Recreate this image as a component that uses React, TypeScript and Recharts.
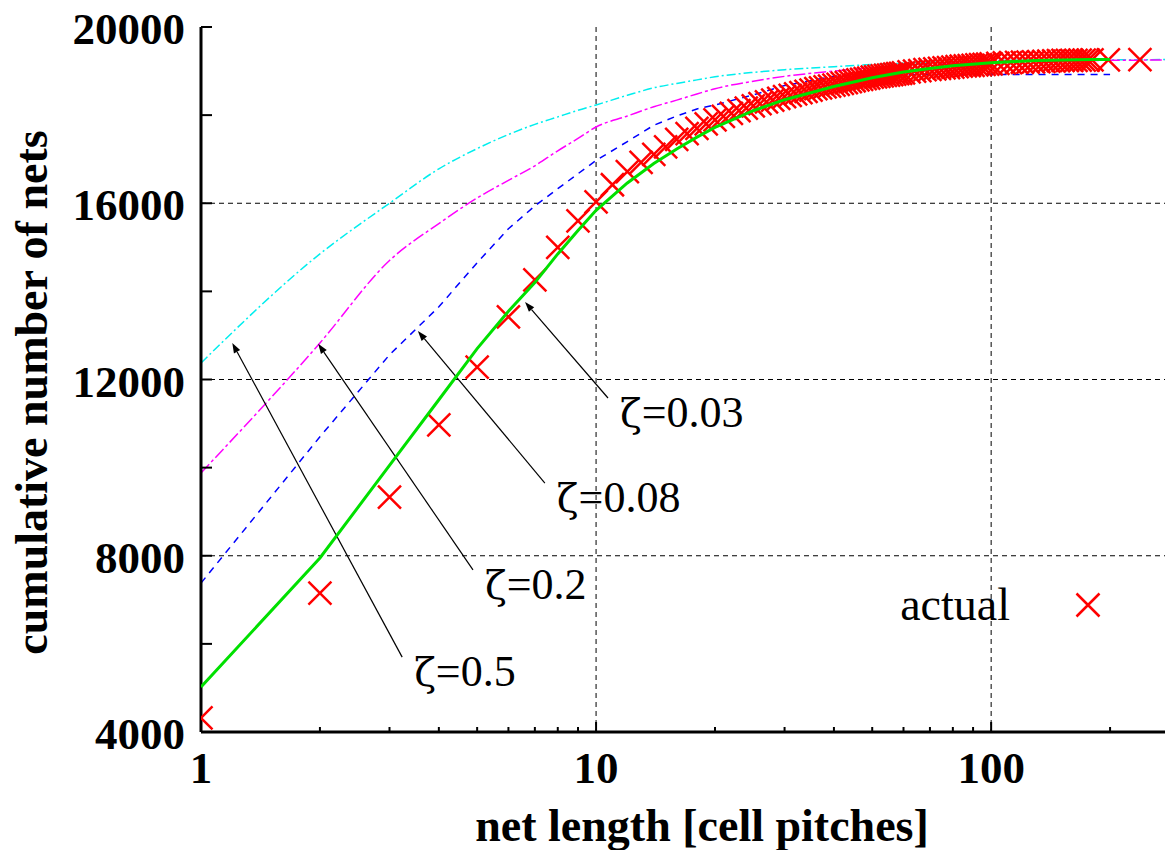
import React from 'react';
import { ComposedChart, Line, Scatter, XAxis, YAxis, CartesianGrid, ReferenceLine } from 'recharts';

const FONT = '"Liberation Serif", "Times New Roman", serif';
const X_MAX = 292;

// model curves, sampled at net lengths
const modelLength = [1, 2, 3, 4, 5, 6, 7, 8, 9, 10, 12, 14, 16, 18, 20, 25, 30, 40, 50, 60, 70, 80, 100, 130, 180, 200, 300];
const zeta05 = [12375, 14850, 16000, 16780, 17240, 17560, 17790, 17960, 18110, 18230, 18450, 18620, 18720, 18800, 18870, 18970, 19030, 19100, 19150, 19180, 19200, 19220, 19240, 19250, 19255, 19258, 19260];
const zeta02 = [9880, 12830, 14700, 15540, 16120, 16520, 16850, 17190, 17470, 17730, 17980, 18190, 18340, 18480, 18600, 18770, 18880, 19000, 19080, 19130, 19160, 19190, 19210, 19230, 19240, 19245, 19250];
const zeta008 = [7380, 10700, 12560, 13650, 14650, 15420, 15940, 16330, 16670, 16970, 17400, 17770, 17980, 18140, 18230, 18460, 18670, 18880, 18910, 18920, 18920, 18920, 18920, 18920, 18920, 18920, null];
const zeta003 = [5020, 7950, 10050, 11540, 12700, 13550, 14200, 14850, 15380, 15840, 16460, 16900, 17230, 17500, 17720, 18100, 18350, 18650, 18850, 18980, 19060, 19120, 19190, 19240, 19260, 19260, null];

// measured cumulative counts
const actualLength = [
  1, 2, 3, 4, 5, 6, 7, 8, 9, 10, 11, 12, 13, 14, 15, 16, 17, 18, 19, 20,
  21, 22, 23, 24, 25, 26, 27, 28, 29, 30, 31, 32, 33, 34, 35, 36, 37, 38, 39, 40,
  41, 42, 43, 44, 45, 46, 47, 48, 49, 50, 51, 52, 53, 54, 55, 56, 57, 58, 59, 60,
  62, 64, 66, 68, 70, 72, 74, 76, 78, 80, 82, 84, 86, 88, 90, 92, 94, 96, 98, 100,
  104, 108, 112, 116, 120, 124, 128, 132, 136, 140, 144, 148, 152, 156, 160, 164, 168, 172, 176, 180,
  198, 238,
];
const actualNets = [
  4320, 7150, 9330, 10970, 12280, 13420, 14260, 15000, 15600, 16030, 16420, 16720, 16930, 17110, 17280, 17450, 17580, 17700, 17800, 17890,
  17970, 18040, 18100, 18160, 18210, 18260, 18300, 18340, 18380, 18420, 18450, 18480, 18510, 18540, 18570, 18600, 18620, 18640, 18660, 18680,
  18700, 18720, 18740, 18760, 18780, 18800, 18810, 18830, 18840, 18860, 18870, 18880, 18890, 18900, 18910, 18920, 18930, 18940, 18950, 18960,
  18980, 19000, 19010, 19030, 19040, 19050, 19060, 19070, 19080, 19090, 19100, 19110, 19120, 19125, 19130, 19140, 19145, 19150, 19160, 19165,
  19175, 19185, 19190, 19195, 19200, 19205, 19210, 19215, 19220, 19225, 19230, 19235, 19240, 19240, 19245, 19245, 19250, 19250, 19250, 19255,
  19255, 19258,
];

const xMajor = [1, 10, 100];
const xMinor = [2, 3, 4, 5, 6, 7, 8, 9, 20, 30, 40, 50, 60, 70, 80, 90, 200];
const yTicks = [4000, 6000, 8000, 10000, 12000, 14000, 16000, 18000, 20000];
const yLabelled = [4000, 8000, 12000, 16000, 20000];

const arrows = [
  { label: '0.5', from: { x: 3.23, y: 5700 }, to: { x: 1.2, y: 12830 } },
  { label: '0.2', from: { x: 4.88, y: 7680 }, to: { x: 1.98, y: 12810 } },
  { label: '0.08', from: { x: 7.42, y: 9650 }, to: { x: 3.54, y: 13100 } },
  { label: '0.03', from: { x: 10.72, y: 11580 }, to: { x: 6.61, y: 13760 } },
];

const modelData = modelLength.map((x, i) => ({ x, z05: zeta05[i], z02: zeta02[i], z008: zeta008[i], z003: zeta003[i] }));
// the ζ=0.03 fit is drawn as a scatter line so that it sits on top of the crosses
const fitData = modelLength.map((x, i) => ({ x, y: zeta003[i] })).filter((d) => d.y != null);
const actualData = actualLength.map((x, i) => ({ x, y: actualNets[i] }));

const CrossMark = (props: any) => {
  const { cx, cy } = props;
  if (cx == null || cy == null) return null;
  const h = 11.5;
  return (
    <path d={`M${cx - h},${cy - h}L${cx + h},${cy + h}M${cx - h},${cy + h}L${cx + h},${cy - h}`} stroke="#ff0000" strokeWidth={2.5} fill="none" />
  );
};

const NoMark = () => <g />;

const BottomTick = (props: any) => {
  const { x, y, payload } = props;
  const major = xMajor.includes(payload.value);
  return (
    <g>
      <line x1={x} y1={y} x2={x} y2={y - (major ? 10 : 5)} stroke="#000" strokeWidth={2} />
      {major && (
        <text x={x} y={y + 51} textAnchor="middle" fontFamily={FONT} fontWeight="bold" fontSize={45} fill="#000">{payload.value}</text>
      )}
    </g>
  );
};

const TopTick = (props: any) => {
  const { x, y, payload } = props;
  const major = xMajor.includes(payload.value);
  return <line x1={x} y1={y} x2={x} y2={y + (major ? 10 : 5)} stroke="#000" strokeWidth={2} />;
};

const LeftTick = (props: any) => {
  const { x, y, payload } = props;
  return (
    <g>
      <line x1={x} y1={y} x2={x + 11} y2={y} stroke="#000" strokeWidth={2} />
      {yLabelled.includes(payload.value) && (
        <text x={x - 16} y={y + 17} textAnchor="end" fontFamily={FONT} fontWeight="bold" fontSize={45} fill="#000">{payload.value}</text>
      )}
    </g>
  );
};

const YTitle = (props: any) => {
  const vb = props.viewBox;
  const cx = vb.x + 47;
  const cy = vb.y + vb.height / 2 + 13;
  return (
    <text x={cx} y={cy} transform={`rotate(-90 ${cx} ${cy})`} textAnchor="middle" fontFamily={FONT} fontWeight="bold" fontSize={46} fill="#000">
      cumulative number of nets
    </text>
  );
};

const XTitle = (props: any) => {
  const vb = props.viewBox;
  return (
    <text x={vb.x + 501} y={vb.y + 109} textAnchor="middle" fontFamily={FONT} fontWeight="bold" fontSize={46} fill="#000">
      net length [cell pitches]
    </text>
  );
};

const Arrow = (props: any) => {
  const { x1, y1, x2, y2, text } = props;
  const ang = Math.atan2(y2 - y1, x2 - x1);
  const len = 10;
  const w = 3.5;
  const bx = x2 - len * Math.cos(ang);
  const by = y2 - len * Math.sin(ang);
  const px = -Math.sin(ang) * w;
  const py = Math.cos(ang) * w;
  return (
    <g>
      <line x1={x1} y1={y1} x2={bx} y2={by} stroke="#000" strokeWidth={1.2} />
      <polygon points={`${x2},${y2} ${bx + px},${by + py} ${bx - px},${by - py}`} fill="#000" />
      <text x={x1 + 12} y={y1 + 29} fontFamily={FONT} fontSize={44} fill="#000">
        <tspan fontFamily='"DejaVu Serif", serif' fontSize={40}>ζ</tspan>={text}
      </text>
    </g>
  );
};

export default function App() {
  return (
    <div style={{ position: 'absolute', left: 0, top: 0, width: 1165, height: 850, overflow: 'hidden', background: '#fff' }}>
      <ComposedChart width={1175} height={850} margin={{ top: 27, right: 0, bottom: 0, left: 0 }}>
        <CartesianGrid stroke="#000" strokeWidth={1} strokeDasharray="5 4" horizontalValues={[8000, 12000, 16000]} verticalValues={[10, 100]} />
        <XAxis
          type="number"
          dataKey="x"
          scale="log"
          domain={[1, X_MAX]}
          allowDataOverflow
          ticks={[...xMajor, ...xMinor]}
          interval={0}
          tick={<BottomTick />}
          tickLine={false}
          tickSize={0}
          tickMargin={0}
          height={118}
          axisLine={{ stroke: '#000', strokeWidth: 3 }}
          label={{ content: XTitle }}
        />
        <XAxis
          xAxisId="top"
          orientation="top"
          type="number"
          dataKey="x"
          scale="log"
          domain={[1, X_MAX]}
          allowDataOverflow
          ticks={[...xMajor, ...xMinor]}
          interval={0}
          tick={<TopTick />}
          tickLine={false}
          tickSize={0}
          tickMargin={0}
          height={0}
          axisLine={{ stroke: '#000', strokeWidth: 3 }}
        />
        <YAxis
          type="number"
          domain={[4000, 20000]}
          allowDataOverflow
          ticks={yTicks}
          interval={0}
          tick={<LeftTick />}
          tickLine={false}
          tickSize={0}
          tickMargin={0}
          width={201}
          axisLine={{ stroke: '#000', strokeWidth: 3 }}
          label={{ content: YTitle }}
        />
        <Line data={modelData} dataKey="z05" type="monotone" stroke="#00eeee" strokeWidth={1.5} strokeDasharray="9 3 2 3" dot={false} activeDot={false} isAnimationActive={false} />
        <Line data={modelData} dataKey="z02" type="monotone" stroke="#ff00ff" strokeWidth={1.5} strokeDasharray="12 3 3 3" dot={false} activeDot={false} isAnimationActive={false} />
        <Line data={modelData} dataKey="z008" type="linear" stroke="#0000ff" strokeWidth={1.5} strokeDasharray="7 6" dot={false} activeDot={false} isAnimationActive={false} />
        <Scatter data={actualData} dataKey="y" shape={<CrossMark />} isAnimationActive={false} />
        <Scatter
          data={fitData}
          dataKey="y"
          shape={<NoMark />}
          line={{ stroke: '#00e000', strokeWidth: 3 }}
          lineType="joint"
          isAnimationActive={false}
        />
        {arrows.map((a) => (
          <ReferenceLine
            key={a.label}
            segment={[a.from, a.to]}
            shape={(p: any) => <Arrow {...p} text={a.label} />}
          />
        ))}
      </ComposedChart>
      <svg width={1165} height={850} style={{ position: 'absolute', left: 0, top: 0, pointerEvents: 'none' }}>
        <text x={1010} y={620} textAnchor="end" fontFamily={FONT} fontSize={46} fill="#000">actual</text>
        <CrossMark cx={1088} cy={605} />
      </svg>
    </div>
  );
}
